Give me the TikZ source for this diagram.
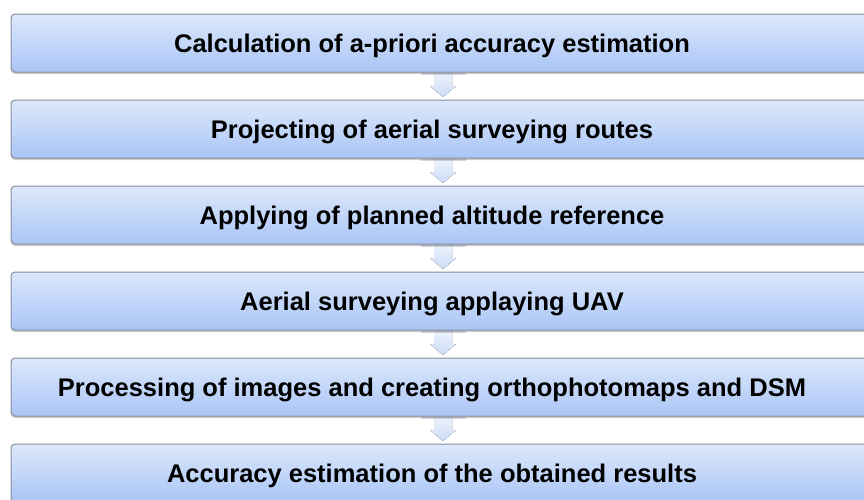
\documentclass[tikz,border=0pt]{standalone}
\usepackage{fontspec}
\setmainfont{Liberation Sans}
\usetikzlibrary{shadows}
\definecolor{boxtop}{HTML}{DDE8FB}
\definecolor{boxbot}{HTML}{A9C5F6}
\definecolor{boxline}{HTML}{858E9C}
\definecolor{arrtop}{HTML}{EEF3FC}
\definecolor{arrbot}{HTML}{CCDCF7}
\tikzset{
  stepbox/.style={rounded corners=4pt, draw=boxline, line width=1pt,
    top color=boxtop, bottom color=boxbot,
    drop shadow={shadow xshift=0pt, shadow yshift=-2pt, fill=black, opacity=0.2}},
  steptext/.style={font=\bfseries\fontsize{25.5}{28}\selectfont, text=black, anchor=base},
  downarrow/.style={top color=arrtop, bottom color=arrbot, draw=none}
}
\begin{document}
\begin{tikzpicture}[x=1pt,y=-1pt]
\useasboundingbox (0,0) rectangle (864,499);
\begin{scope}
\clip (0,0) rectangle (864,499);
% arrows (behind boxes)
\foreach \k in {0,...,4}{
  \pgfmathsetmacro{\yb}{72+86*\k}
  \fill[downarrow] (434,\yb) -- (452,\yb) -- (452,\yb+14) -- (456,\yb+14) -- (443,\yb+25) -- (430,\yb+14) -- (434,\yb+14) -- cycle;
  \fill[boxline!70, opacity=0.45] (421,\yb+1) rectangle (466,\yb+3);
}
\foreach \k in {0,...,5}{
  \pgfmathsetmacro{\yt}{14+86*\k}
  \path[stepbox] (11,\yt) rectangle (878,\yt+58);
}
\end{scope}
\node[steptext] (a) at (432,52) {Calculation of a-priori accuracy estimation};
\node[steptext] (b) at (432,138) {Projecting of aerial surveying routes};
\node[steptext] (c) at (432,224) {Applying of planned altitude reference};
\node[steptext] (d) at (432,310) {Aerial surveying applaying UAV};
\node[steptext] (e) at (432,396) {Processing of images and creating orthophotomaps and DSM};
\node[steptext] (f) at (432,482) {Accuracy estimation of the obtained results};
\end{tikzpicture}
\end{document}
